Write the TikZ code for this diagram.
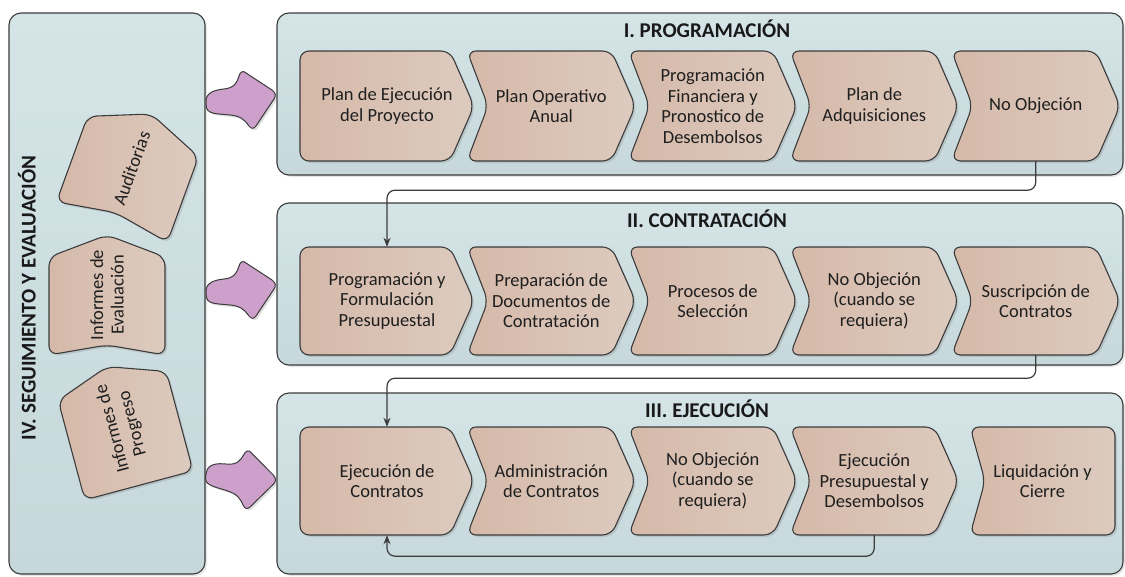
\documentclass[tikz,border=0pt]{standalone}
\usepackage{fontspec}
\setmainfont{Carlito}
\usetikzlibrary{arrows.meta, shadows}

\definecolor{panelTop}{HTML}{D4E4E7}
\definecolor{panelBot}{HTML}{C6D8DB}
\definecolor{stepA}{HTML}{D5B9A9}
\definecolor{stepB}{HTML}{DDCBBF}
\definecolor{blobfill}{HTML}{CDA0CC}
\definecolor{edgegrey}{HTML}{3C3C3C}

\tikzset{
  panel/.style={draw=edgegrey, line width=1.1pt, rounded corners=12pt,
    top color=panelTop, bottom color=panelBot,
    drop shadow={shadow xshift=2pt, shadow yshift=-2pt, opacity=0.2}},
  stepshape/.style={draw=edgegrey, line width=1.1pt, rounded corners=9pt,
    left color=stepA, right color=stepB,
    drop shadow={shadow xshift=2pt, shadow yshift=-2pt, opacity=0.25}},
  steptext/.style={align=center, inner sep=0pt, text=black!88,
    font=\fontsize{18.5}{20.5}\selectfont},
  paneltitle/.style={font=\bfseries\fontsize{21}{23}\selectfont, text=black!90},
  blobarrow/.style={draw=edgegrey, line width=1pt, fill=blobfill,
    drop shadow={shadow xshift=2pt, shadow yshift=-2pt, opacity=0.25}},
  flow/.style={draw=edgegrey, line width=1.2pt, rounded corners=8pt,
    -{Stealth[length=9pt, width=7pt]}},
}

% #1 rotation, #2 name, #3 #4 centre, #5 half length, #6 half height,
% #7 notch depth, #8 tip depth, #9 text
\newcommand{\stepbox}[9][0]{%
  \begin{scope}[shift={(#3,#4)}, rotate=#1]
    \path[stepshape] (-#5,-#6) -- (#5-#8,-#6) -- (#5,0) -- (#5-#8,#6)
      -- (-#5,#6) -- (-#5+#7,0) -- cycle;
  \end{scope}
  \node[steptext, rotate=#1, minimum height={2*#6pt}] (#2) at (#3,#4) {#9};
}

% curved purple arrow, #1 #2 tail point, #3 rotation
\newcommand{\flowblob}[3]{%
  \begin{scope}[shift={(#1,#2)}, rotate=#3]
    \path[blobarrow] (0,-2)
      .. controls (0,-10) and (8,-13) .. (18,-14)
      .. controls (28,-15) and (31,-20) .. (33,-27)
      .. controls (34,-31) and (37,-33) .. (40,-30)
      -- (66,-13)
      .. controls (70,-10) and (70,-7) .. (68,-4)
      -- (50,23)
      .. controls (48,26) and (45,26) .. (43,23)
      .. controls (38,16) and (34,13) .. (24,12)
      .. controls (14,11) and (8,11) .. (4,9)
      .. controls (0,7) and (0,3) .. (0,-2) -- cycle;
  \end{scope}
}

\begin{document}
\begin{tikzpicture}[x=1pt, y=-1pt]
\useasboundingbox (0,0) rectangle (1125,576);

% panels
\path[panel] (9,13) rectangle (205,574);
\path[panel] (277,13) rectangle (1123,175);
\path[panel] (277,203) rectangle (1123,365);
\path[panel] (277,393) rectangle (1123,574);

\node[paneltitle, rotate=90] (titleIV) at (27,298) {IV. SEGUIMIENTO Y EVALUACIÓN};
\node[paneltitle] (titleI) at (707,29) {I. PROGRAMACIÓN};
\node[paneltitle] (titleII) at (707,219) {II. CONTRATACIÓN};
\node[paneltitle] (titleIII) at (707,409) {III. EJECUCIÓN};

% arrows from the left panel
\flowblob{206}{103}{0}
\flowblob{206}{293}{0}
\flowblob{206}{474}{-12}

% seguimiento
\stepbox[70]{audit}{131.6}{168}{57.5}{59}{10}{24}{Auditorias}
\stepbox[90]{evalua}{107}{295}{60}{58}{10}{22}{Informes de\\Evaluación}
\stepbox[105]{progreso}{123}{426}{61.5}{56}{0}{20}{Informes de\\Progreso}

% I. programacion
\stepbox{i1}{387}{106}{87}{55}{0}{24}{Plan de Ejecución\\del Proyecto}
\stepbox{i2}{551.25}{106}{84.25}{55}{21}{24}{Plan Operativo\\Anual}
\stepbox{i3}{712.75}{106}{84.25}{55}{21}{24}{Programación\\Financiera y\\Pronostico de\\Desembolsos}
\stepbox{i4}{874.25}{106}{84.25}{55}{21}{24}{Plan de\\Adquisiciones}
\stepbox{i5}{1035.75}{106}{84.25}{55}{21}{24}{No Objeción}

% II. contratacion
\stepbox{ii1}{387}{301}{87}{54}{0}{24}{Programación y\\Formulación\\Presupuestal}
\stepbox{ii2}{551.25}{301}{84.25}{54}{21}{24}{Preparación de\\Documentos de\\Contratación}
\stepbox{ii3}{712.75}{301}{84.25}{54}{21}{24}{Procesos de\\Selección}
\stepbox{ii4}{874.25}{301}{84.25}{54}{21}{24}{No Objeción\\(cuando se\\requiera)}
\stepbox{ii5}{1035.75}{301}{84.25}{54}{21}{24}{Suscripción de\\Contratos}

% III. ejecucion
\stepbox{iii1}{387}{481}{87}{54}{0}{24}{Ejecución de\\Contratos}
\stepbox{iii2}{551.25}{481}{84.25}{54}{21}{24}{Administración\\de Contratos}
\stepbox{iii3}{712.75}{481}{84.25}{54}{21}{24}{No Objeción\\(cuando se\\requiera)}
\stepbox{iii4}{874.25}{481}{84.25}{54}{21}{24}{Ejecución\\Presupuestal y\\Desembolsos}
\stepbox{iii5}{1042.5}{481}{72.5}{54}{15}{0}{Liquidación y\\Cierre}

% connectors
\draw[flow] (i5.south) -- ++(0,29) -| (ii1.north);
\draw[flow] (ii5.south) -- ++(0,23) -| (iii1.north);
\draw[flow] (iii4.south) -- ++(0,21) -| (iii1.south);
\end{tikzpicture}
\end{document}
